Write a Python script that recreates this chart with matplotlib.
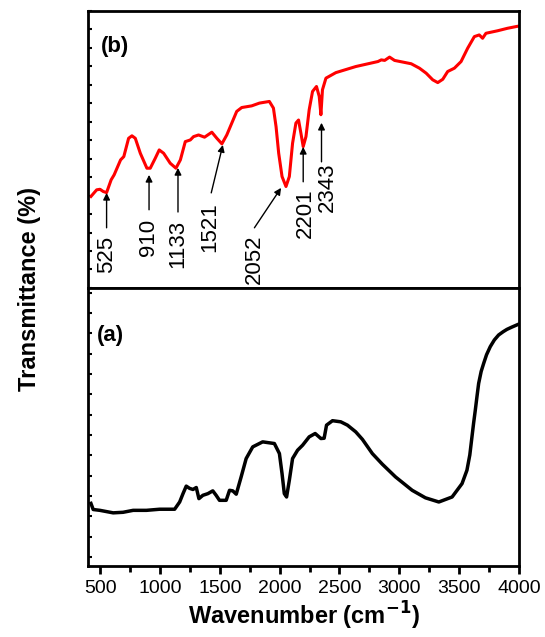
import matplotlib
matplotlib.use('Agg')
import matplotlib.pyplot as plt
from matplotlib.ticker import MultipleLocator, FixedLocator

plt.rcParams['font.family'] = ['Liberation Sans', 'DejaVu Sans']

# spectrum (b) - red, upper panel (transmittance in arbitrary units)
wn_b = [422, 470, 498, 525, 553, 591, 616, 670, 697, 737, 765, 793, 835, 890, 918,
        960, 993, 1030, 1085, 1133, 1170, 1211, 1253, 1280, 1322, 1372, 1433, 1475,
        1517, 1558, 1600, 1641, 1683, 1766, 1831, 1914, 1948, 1970, 1992, 2020, 2053,
        2081, 2108, 2136, 2158, 2178, 2197, 2220, 2247, 2275, 2308, 2331, 2345, 2358,
        2387, 2470, 2637, 2822, 2850, 2878, 2919, 2961, 3100, 3169, 3225, 3280, 3322,
        3364, 3405, 3461, 3517, 3572, 3628, 3669, 3697, 3725, 3822, 3905, 3975, 4000]
t_b = [33.0, 35.4, 35.6, 34.8, 34.4, 39.0, 40.8, 46.2, 47.4, 54.0, 54.9, 54.0, 48.6,
       43.2, 43.2, 46.8, 49.8, 48.6, 45.0, 43.2, 46.2, 52.8, 53.4, 54.6, 55.2, 54.4,
       56.2, 54.0, 52.0, 55.2, 59.5, 63.7, 65.1, 65.7, 66.7, 67.3, 64.9, 58.2, 48.6,
       40.2, 36.6, 40.2, 52.2, 59.5, 60.6, 55.8, 51.0, 54.6, 64.3, 70.9, 72.7, 69.1,
       62.5, 71.5, 75.7, 77.7, 79.9, 81.7, 82.3, 82.1, 83.3, 82.1, 80.9, 79.3, 77.5,
       75.1, 74.1, 75.3, 78.1, 79.3, 81.7, 86.5, 90.7, 91.3, 90.1, 91.9, 92.8, 93.7,
       94.3, 94.5]

# spectrum (a) - black, lower panel
wn_a = [422, 441, 497, 608, 691, 775, 886, 997, 1122, 1164, 1192, 1219, 1247, 1275,
        1303, 1325, 1358, 1400, 1441, 1469, 1497, 1553, 1581, 1608, 1637, 1678, 1720,
        1775, 1858, 1956, 1998, 2020, 2039, 2058, 2081, 2108, 2150, 2192, 2247, 2297,
        2345, 2372, 2392, 2442, 2511, 2567, 2636, 2692, 2775, 2858, 2969, 3108, 3219,
        3331, 3442, 3525, 3566, 3590, 3608, 3622, 3636, 3650, 3664, 3685, 3706, 3730,
        3761, 3795, 3831, 3870, 3900, 3940, 3983, 4000]
t_a = [22.6, 20.4, 20.1, 19.2, 19.4, 20.1, 20.1, 20.5, 20.5, 23.1, 26.1, 28.8, 28.0,
       27.6, 28.3, 24.3, 25.5, 26.1, 27.1, 25.5, 23.7, 23.7, 27.3, 27.1, 25.9, 32.1,
       38.7, 42.9, 44.7, 44.1, 40.5, 33.3, 26.1, 24.9, 30.9, 38.7, 41.7, 43.5, 46.5,
       47.7, 45.9, 46.0, 50.7, 52.3, 51.9, 50.7, 48.3, 45.6, 40.5, 36.7, 32.1, 27.3,
       24.6, 23.1, 24.9, 29.7, 34.5, 40.0, 46.5, 51.5, 56.1, 61.0, 65.7, 70.0, 72.9,
       76.0, 78.9, 81.3, 83.1, 84.3, 85.1, 85.9, 86.7, 87.0]

# peak labels on (b): label, arrow head (wn, T), arrow tail (wn, T), text top (wn, T)
peak_labels = ['525', '910', '1133', '1521', '2052', '2201', '2343']
head_wn = [553, 908, 1150, 1525, 2012, 2197, 2350]
head_t = [34.3, 40.8, 43.3, 51.6, 36.1, 50.9, 59.6]
tail_wn = [553, 908, 1150, 1428, 1789, 2197, 2350]
tail_t = [21.7, 28.2, 27.4, 34.3, 21.7, 38.3, 45.5]
text_wn = [553, 905, 1150, 1414, 1789, 2214, 2400]
text_t = [18.8, 24.9, 24.5, 31.0, 19.1, 36.1, 45.1]

fig = plt.figure(figsize=(5.45, 6.37), dpi=100)
left, right = 0.162, 0.952
bottom, mid, top = 0.111, 0.548, 0.983
ax_b = fig.add_axes([left, mid, right - left, top - mid])
ax_a = fig.add_axes([left, bottom, right - left, mid - bottom], sharex=ax_b)

ax_b.plot(wn_b, t_b, color='red', lw=2.2, solid_joinstyle='round')
ax_a.plot(wn_a, t_a, color='black', lw=2.5, solid_joinstyle='round')

for ax in (ax_a, ax_b):
    ax.set_xlim(400, 4000)
    ax.set_ylim(0, 100)
    for s in ax.spines.values():
        s.set_linewidth(2)
    ax.tick_params(axis='y', which='both', direction='in', length=3, width=1.5,
                   labelleft=False)

ax_b.yaxis.set_major_locator(MultipleLocator(100 / 15))
ax_a.yaxis.set_major_locator(FixedLocator([3.4 + 7.3 * i for i in range(14)]))

ax_b.tick_params(axis='x', which='both', bottom=False, labelbottom=False)
ax_a.xaxis.set_major_locator(MultipleLocator(500))
ax_a.xaxis.set_minor_locator(MultipleLocator(250))
ax_a.tick_params(axis='x', which='major', direction='out', length=6, width=2,
                 labelsize=14, pad=4)
ax_a.tick_params(axis='x', which='minor', direction='out', length=4, width=2)

for i, lab in enumerate(peak_labels):
    ax_b.annotate('', xy=(head_wn[i], head_t[i]), xytext=(tail_wn[i], tail_t[i]),
                  arrowprops=dict(arrowstyle='-|>', color='black', lw=1,
                                  shrinkA=0, shrinkB=0, mutation_scale=10))
    ax_b.text(text_wn[i], text_t[i], lab, rotation=90, ha='center', va='top',
              fontsize=16)

ax_b.text(0.03, 0.87, '(b)', transform=ax_b.transAxes, fontsize=16,
          fontweight='bold', va='center')
ax_a.text(0.02, 0.83, '(a)', transform=ax_a.transAxes, fontsize=16,
          fontweight='bold', va='center')

ax_a.set_xlabel('Wavenumber (cm$^{\\mathbf{-1}}$)', fontsize=17, fontweight='bold',
                labelpad=2)
fig.text(0.055, (bottom + top) / 2, 'Transmittance (%)', rotation=90, ha='center',
         va='center', fontsize=17, fontweight='bold')

fig.savefig('out.png', dpi=100)
